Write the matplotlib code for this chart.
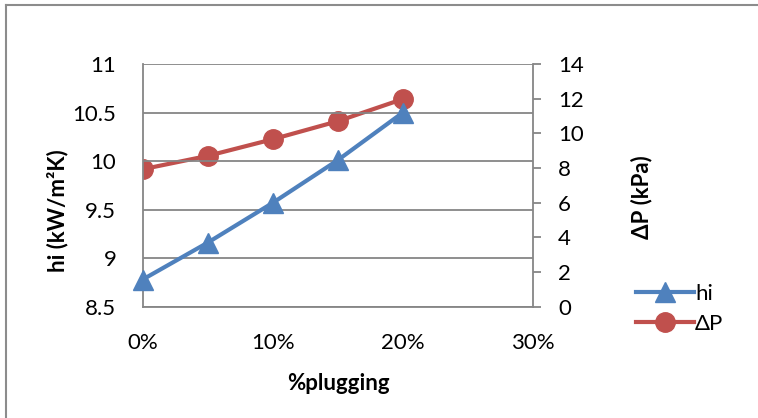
import matplotlib
matplotlib.use("Agg")
import matplotlib.pyplot as plt
from matplotlib.lines import Line2D

plt.rcParams['font.family'] = ['Lato', 'DejaVu Sans']

plugging = [0.00, 0.05, 0.10, 0.15, 0.20]
hi_values = [8.78, 9.16, 9.57, 10.01, 10.50]
dp_values = [7.93, 8.70, 9.66, 10.70, 11.98]

hi_ticks = [8.5, 9, 9.5, 10, 10.5, 11]
hi_tick_labels = ['8.5', '9', '9.5', '10', '10.5', '11']
dp_ticks = [0, 2, 4, 6, 8, 10, 12, 14]
x_ticks = [0.0, 0.1, 0.2, 0.3]
x_tick_labels = ['0%', '10%', '20%', '30%']

BLUE = '#4F81BD'
RED = '#C0504D'
GRID = '#868686'
FS = 16

W, H = 758, 418
fig = plt.figure(figsize=(W / 100, H / 100), dpi=100)

# outer chart frame (left and top edges fall inside the image)
frame_kw = dict(transform=fig.transFigure, color='#8c8c8c', linewidth=1.5)
fig.lines.append(Line2D([6 / W, 6 / W], [0, 1 - 5 / H], **frame_kw))
fig.lines.append(Line2D([6 / W, 1], [1 - 5 / H, 1 - 5 / H], **frame_kw))

left, right, top, bottom = 142.7, 533.0, 64.0, 306.7
ax = fig.add_axes([left / W, 1 - bottom / H, (right - left) / W, (bottom - top) / H])
ax2 = ax.twinx()

ax.set_xlim(0, 0.3)
ax.set_ylim(8.5, 11)
ax2.set_ylim(0, 14)

ax.set_yticks(hi_ticks)
ax.set_yticklabels(hi_tick_labels)
ax.set_xticks(x_ticks)
ax.set_xticklabels(x_tick_labels)
ax2.set_yticks(dp_ticks)

ax.grid(axis='y', color=GRID, linewidth=1.3)
ax.set_axisbelow(True)
for a in (ax, ax2):
    for s in a.spines.values():
        s.set_visible(False)
ax.spines['left'].set_visible(True)
ax.spines['bottom'].set_visible(True)
ax2.spines['right'].set_visible(True)
for s in (ax.spines['left'], ax.spines['bottom'], ax2.spines['right']):
    s.set_color(GRID)
    s.set_linewidth(1.3)

ax.tick_params(axis='y', length=0, pad=19, labelsize=FS)
ax.tick_params(axis='x', length=0, pad=19, labelsize=FS)
ax2.tick_params(axis='y', length=6, width=1.3, color=GRID, pad=12, labelsize=FS)

l2, = ax2.plot(plugging, dp_values, color=RED, linewidth=3, marker='o',
               markersize=14, label='ΔP', zorder=3)
l1, = ax.plot(plugging, hi_values, color=BLUE, linewidth=3, marker='^',
              markersize=14, label='hi', zorder=3, clip_on=False)
ax.set_zorder(ax2.get_zorder() + 1)
ax.patch.set_visible(False)

fig.text(58 / W, 1 - 211 / H, 'hi (kW/m²K)', rotation=90, ha='center', va='center',
         fontsize=FS, fontweight='bold')
fig.text(641.7 / W, 1 - 197 / H, 'ΔP (kPa)', rotation=90, ha='center', va='center',
         fontsize=FS, fontweight='bold')
fig.text(338 / W, 1 - 384 / H, '%plugging', ha='center', va='center',
         fontsize=FS, fontweight='bold')

fig.legend(handles=[l1, l2], loc='center left', bbox_to_anchor=(616 / W, 1 - 309 / H),
           frameon=False, fontsize=FS, handlelength=2.6, handletextpad=0.05,
           labelspacing=0.45, markerscale=1.0)

fig.savefig('out.png', dpi=100)
